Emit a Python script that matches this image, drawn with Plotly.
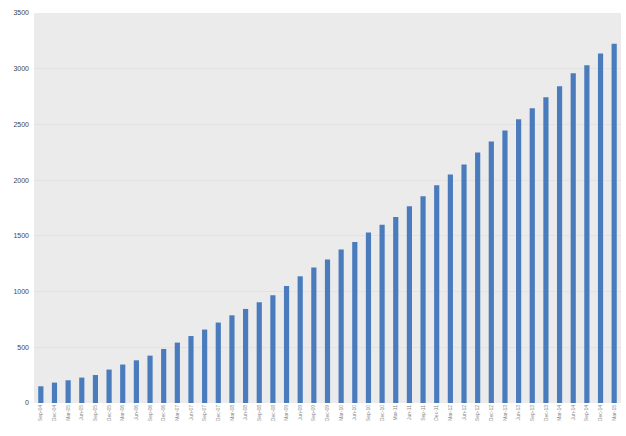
import plotly.graph_objects as go

months = ["Mar", "Jun", "Sep", "Dec"]
categories = ["Sep-04", "Dec-04"] + [f"{m}-{y:02d}" for y in range(5, 15) for m in months] + ["Mar-15"]

values = [150, 183, 204, 228, 251, 300, 345, 383, 425, 485,
          542, 601, 659, 722, 787, 844, 904, 967, 1050, 1137,
          1215, 1287, 1377, 1445, 1530, 1600, 1670, 1766, 1855, 1954,
          2050, 2140, 2248, 2347, 2445, 2547, 2646, 2744, 2843, 2960,
          3032, 3137, 3223]

y_ticks = [0, 500, 1000, 1500, 2000, 2500, 3000, 3500]

fig = go.Figure(go.Bar(x=categories, y=values, marker=dict(color="#4a7bbd", line=dict(width=0))))

fig.update_layout(
    width=626, height=436,
    margin=dict(l=34, r=5, t=13, b=33),
    paper_bgcolor="white",
    plot_bgcolor="#ebebeb",
    bargap=0.62,
    showlegend=False,
    font=dict(family="Liberation Sans, Arial, sans-serif"),
)
fig.update_xaxes(
    type="category", range=[-0.5, len(categories) - 0.5],
    tickangle=-90, tickfont=dict(size=5, color="#888888"),
    showgrid=False, showline=False, ticks="",
)
fig.update_yaxes(
    range=[0, 3500], tickvals=y_ticks,
    tickfont=dict(size=7, color="#444444"),
    showgrid=True, gridcolor="#e2e2e2", gridwidth=1,
    zeroline=False, showline=False, ticks="", ticklabelstandoff=4,
)

fig.write_html("out.html")
